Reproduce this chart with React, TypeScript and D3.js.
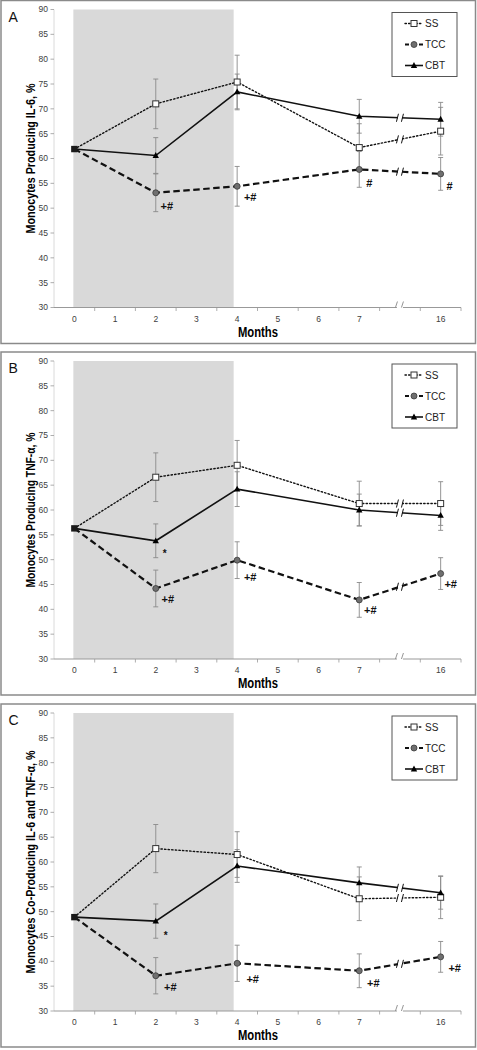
import React from "react";
import * as d3 from "d3";

// ---------- data ----------
const categories = ["0", "1", "2", "3", "4", "5", "6", "7", "", "16"];
const timepoints = ["0", "2", "4", "7", "16"];
const seriesNames = ["SS", "TCC", "CBT"];
const yTicks = [30, 35, 40, 45, 50, 55, 60, 65, 70, 75, 80, 85, 90];
const panelLetters = ["A", "B", "C"];
const yTitles = [
  "Monocytes Producing IL-6, %",
  "Monocytes Producing TNF-\u03b1, %",
  "Monocytes Co-Producing IL-6 and TNF-\u03b1, %",
];
const xTitle = "Months";

const A_SS = [61.9, 71.0, 75.4, 62.2, 65.5];
const A_SS_err = [0, 5.0, 5.4, 4.8, 4.8];
const A_TCC = [61.9, 53.1, 54.4, 57.8, 56.9];
const A_TCC_err = [0, 3.8, 4.0, 3.6, 3.3];
const A_CBT = [61.9, 60.6, 73.4, 68.5, 67.9];
const A_CBT_err = [0, 3.6, 3.6, 3.4, 3.4];

const B_SS = [56.3, 66.6, 69.0, 61.3, 61.3];
const B_SS_err = [0, 4.9, 5.0, 4.5, 4.4];
const B_TCC = [56.3, 44.2, 49.9, 41.9, 47.2];
const B_TCC_err = [0, 3.7, 3.7, 3.5, 3.2];
const B_CBT = [56.3, 53.8, 64.2, 60.0, 58.9];
const B_CBT_err = [0, 3.4, 3.5, 3.2, 3.0];

const C_SS = [48.9, 62.7, 61.5, 52.6, 52.9];
const C_SS_err = [0, 4.85, 4.6, 4.4, 4.3];
const C_TCC = [48.9, 37.1, 39.6, 38.1, 40.9];
const C_TCC_err = [0, 3.65, 3.65, 3.4, 3.1];
const C_CBT = [48.9, 48.1, 59.2, 55.8, 53.8];
const C_CBT_err = [0, 3.45, 3.3, 3.2, 3.3];

// significance annotations: [series, timepoint index, text]
const A_notes = [["TCC", 1, "+#"], ["TCC", 2, "+#"], ["TCC", 3, "#"], ["TCC", 4, "#"]];
const B_notes = [["CBT", 1, "*"], ["TCC", 1, "+#"], ["TCC", 2, "+#"], ["TCC", 3, "+#"], ["TCC", 4, "+#"]];
const C_notes = [["CBT", 1, "*"], ["TCC", 1, "+#"], ["TCC", 2, "+#"], ["TCC", 3, "+#"], ["TCC", 4, "+#"]];

// ---------- layout / style (not data) ----------
const W = 477;
const H = 1050;
const panelTops = [0.5, 352, 704];
const panelH = 343;
const noteOffsets = [
  [[11, 13], [13, 11], [10, 14], [9, 12]],
  [[9, 9], [12, 11], [13, 16.5], [11, 10], [10, 11]],
  [[10, 10.5], [14.5, 11], [15.5, 16], [14, 12.7], [14, 11]],
];
const styles: Record<string, any> = {
  SS: { width: 1.4, dash: "1.4 2.2", cap: "round" },
  TCC: { width: 2.2, dash: "6.5 3.5", cap: "butt" },
  CBT: { width: 1.6, dash: null, cap: "butt" },
};
const FONT = "'Liberation Sans Narrow', 'Liberation Sans', Arial, sans-serif";

const xBand = d3
  .scaleBand<string>()
  .domain(categories.map((_, i) => String(i)))
  .range([54, 461])
  .paddingInner(0)
  .paddingOuter(0);
const bw = xBand.bandwidth();
const xc = (label: string) => (xBand(String(categories.indexOf(label))) as number) + bw / 2;
const breakX = (xBand(String(categories.indexOf(""))) as number) + bw / 2;

function Marker({ name, x, y }: { name: string; x: number; y: number }) {
  if (name === "SS")
    return <rect x={x - 3} y={y - 3} width={6} height={6} fill="#fff" stroke="#333" strokeWidth={1} />;
  if (name === "TCC")
    return <circle cx={x} cy={y} r={3} fill="#6f6f6f" stroke="#3a3a3a" strokeWidth={0.8} />;
  return <path d={`M${x},${y - 3.4}L${x + 3.2},${y + 2.4}L${x - 3.2},${y + 2.4}Z`} fill="#000" />;
}

function Panel({ idx, data, errs, notes }: any) {
  const top = panelTops[idx];
  const y = d3.scaleLinear().domain([30, 90]).range([top + 307, top + 9]);
  const y30 = y(30);
  const y90 = y(90);
  const line = d3
    .line<number>()
    .x((_, i) => xc(timepoints[i]))
    .y((d) => y(d));
  const shadeL = xc("0") - 1;
  const shadeR = xc("4") - 3.5;

  return (
    <g>
      <rect x={1} y={top} width={474.5} height={panelH} fill="#fff" stroke="#8a8a8a" strokeWidth={1.5} />
      <rect x={shadeL} y={y90} width={shadeR - shadeL} height={y30 - y90} fill="#d9d9d9" />
      {/* y axis */}
      <line x1={54} x2={54} y1={y90} y2={y30} stroke="#d0d0d0" strokeWidth={0.8} />
      {yTicks.map((t) => (
        <g key={t}>
          <line x1={50.5} x2={54} y1={y(t)} y2={y(t)} stroke="#999" strokeWidth={0.8} />
          <text x={48} y={y(t)} dy="0.35em" textAnchor="end" fontSize={8.5} fill="#404040" fontFamily={FONT}>
            {t}
          </text>
        </g>
      ))}
      {/* x axis */}
      <line x1={54} x2={breakX - 3} y1={y30} y2={y30} stroke="#999" strokeWidth={1} />
      <line x1={breakX + 3} x2={461} y1={y30} y2={y30} stroke="#999" strokeWidth={1} />
      <line x1={breakX - 4.5} x2={breakX - 2.5} y1={y30} y2={y30 - 6} stroke="#888" strokeWidth={0.9} />
      <line x1={breakX + 1.5} x2={breakX + 3.5} y1={y30} y2={y30 - 6} stroke="#888" strokeWidth={0.9} />
      {categories.map((c, i) => (
        <line
          key={"tk" + i}
          x1={(xBand(String(i)) as number) + bw}
          x2={(xBand(String(i)) as number) + bw}
          y1={y30}
          y2={y30 + 3.5}
          stroke="#999"
          strokeWidth={0.8}
        />
      ))}
      {categories.map((c, i) => (
        <text
          key={"xl" + i}
          x={(xBand(String(i)) as number) + bw / 2}
          y={top + 321}
          textAnchor="middle"
          fontSize={8.5}
          fill="#404040"
          fontFamily={FONT}
        >
          {c}
        </text>
      ))}
      <text
        x={258}
        y={top + 336}
        textAnchor="middle"
        fontSize={14}
        fontWeight="bold"
        fontFamily={FONT}
        textLength={40}
        lengthAdjust="spacingAndGlyphs"
      >
        {xTitle}
      </text>
      <text
        transform={`translate(34.5,${(y90 + y30) / 2}) rotate(-90)`}
        textAnchor="middle"
        fontSize={13}
        fontWeight="bold"
        fontFamily={FONT}
        textLength={[150, 155, 223][idx]}
        lengthAdjust="spacingAndGlyphs"
      >
        {yTitles[idx]}
      </text>
      <text x={8.5} y={top + 21} fontSize={14} fontFamily={FONT} fill="#111">
        {panelLetters[idx]}
      </text>

      {/* error bars */}
      {seriesNames.map((s) =>
        data[s].map((v: number, i: number) => {
          const e = errs[s][i];
          if (!e) return null;
          const x = xc(timepoints[i]);
          return (
            <g key={s + "e" + i} stroke="#8a8a8a" strokeWidth={0.9}>
              <line x1={x} x2={x} y1={y(v + e)} y2={y(v - e)} />
              <line x1={x - 2.5} x2={x + 2.5} y1={y(v + e)} y2={y(v + e)} />
              <line x1={x - 2.5} x2={x + 2.5} y1={y(v - e)} y2={y(v - e)} />
            </g>
          );
        })
      )}
      {/* lines */}
      {seriesNames.map((s) => {
        const st = styles[s];
        const vals = data[s];
        const x7 = xc("7");
        const x16 = xc("16");
        const t = (breakX - x7) / (x16 - x7);
        const by = y(vals[3] + (vals[4] - vals[3]) * t);
        const slope = (y(vals[4]) - y(vals[3])) / (x16 - x7);
        return (
          <g key={s + "l"}>
            <path
              d={line(vals) as string}
              fill="none"
              stroke="#111"
              strokeWidth={st.width}
              strokeDasharray={st.dash || undefined}
              strokeLinecap={st.cap}
            />
            <line
              x1={breakX - 2}
              x2={breakX + 2}
              y1={by - slope * 2}
              y2={by + slope * 2}
              stroke="#fff"
              strokeWidth={st.width + 1.5}
            />
            <line x1={breakX - 3.5} x2={breakX - 1.5} y1={by + 4} y2={by - 4} stroke="#111" strokeWidth={1} />
            <line x1={breakX + 1.5} x2={breakX + 3.5} y1={by + 4} y2={by - 4} stroke="#111" strokeWidth={1} />
          </g>
        );
      })}
      {/* markers */}
      {seriesNames.map((s) =>
        data[s].map((v: number, i: number) =>
          i === 0 ? null : <Marker key={s + "m" + i} name={s} x={xc(timepoints[i])} y={y(v)} />
        )
      )}
      <rect x={xc("0") - 3.2} y={y(data.SS[0]) - 3.2} width={6.4} height={6.4} fill="#1a1a1a" />
      {/* annotations */}
      {notes.map((n: any, k: number) => {
        const [s, i, txt] = n;
        const [dx, dy] = noteOffsets[idx][k];
        const isStar = txt === "*";
        return (
          <text
            key={"n" + k}
            x={xc(timepoints[i]) + dx}
            y={y(data[s][i]) + dy}
            dy={isStar ? "0.75em" : "0.35em"}
            textAnchor="middle"
            fontSize={isStar ? 10 : 11}
            fontWeight="bold"
            fontFamily={FONT}
            fill="#111"
          >
            {txt}
          </text>
        );
      })}
      {/* legend */}
      <rect x={392} y={top + 12} width={65} height={64} fill="#fff" stroke="#555" strokeWidth={1} />
      {seriesNames.map((s, k) => {
        const ly = top + 23 + k * 21;
        const st = styles[s];
        return (
          <g key={s + "lg"}>
            <line
              x1={405}
              x2={423}
              y1={ly}
              y2={ly}
              stroke="#111"
              strokeWidth={st.width}
              strokeDasharray={s === "TCC" ? "4 3" : st.dash || undefined}
              strokeLinecap={st.cap}
            />
            <Marker name={s} x={414} y={ly} />
            <text x={425} y={ly} dy="0.35em" fontSize={10} fontFamily={FONT} fill="#222">
              {s}
            </text>
          </g>
        );
      })}
    </g>
  );
}

export default function App() {
  const panels = [
    {
      data: { SS: A_SS, TCC: A_TCC, CBT: A_CBT },
      errs: { SS: A_SS_err, TCC: A_TCC_err, CBT: A_CBT_err },
      notes: A_notes,
    },
    {
      data: { SS: B_SS, TCC: B_TCC, CBT: B_CBT },
      errs: { SS: B_SS_err, TCC: B_TCC_err, CBT: B_CBT_err },
      notes: B_notes,
    },
    {
      data: { SS: C_SS, TCC: C_TCC, CBT: C_CBT },
      errs: { SS: C_SS_err, TCC: C_TCC_err, CBT: C_CBT_err },
      notes: C_notes,
    },
  ];
  return (
    <svg
      width={W}
      height={H}
      viewBox={`0 0 ${W} ${H}`}
      style={{ position: "absolute", left: 0, top: 0, background: "#fff" }}
    >
      <rect x={0} y={0} width={W} height={H} fill="#fff" />
      {panels.map((p, i) => (
        <Panel key={i} idx={i} data={p.data} errs={p.errs} notes={p.notes} />
      ))}
    </svg>
  );
}
